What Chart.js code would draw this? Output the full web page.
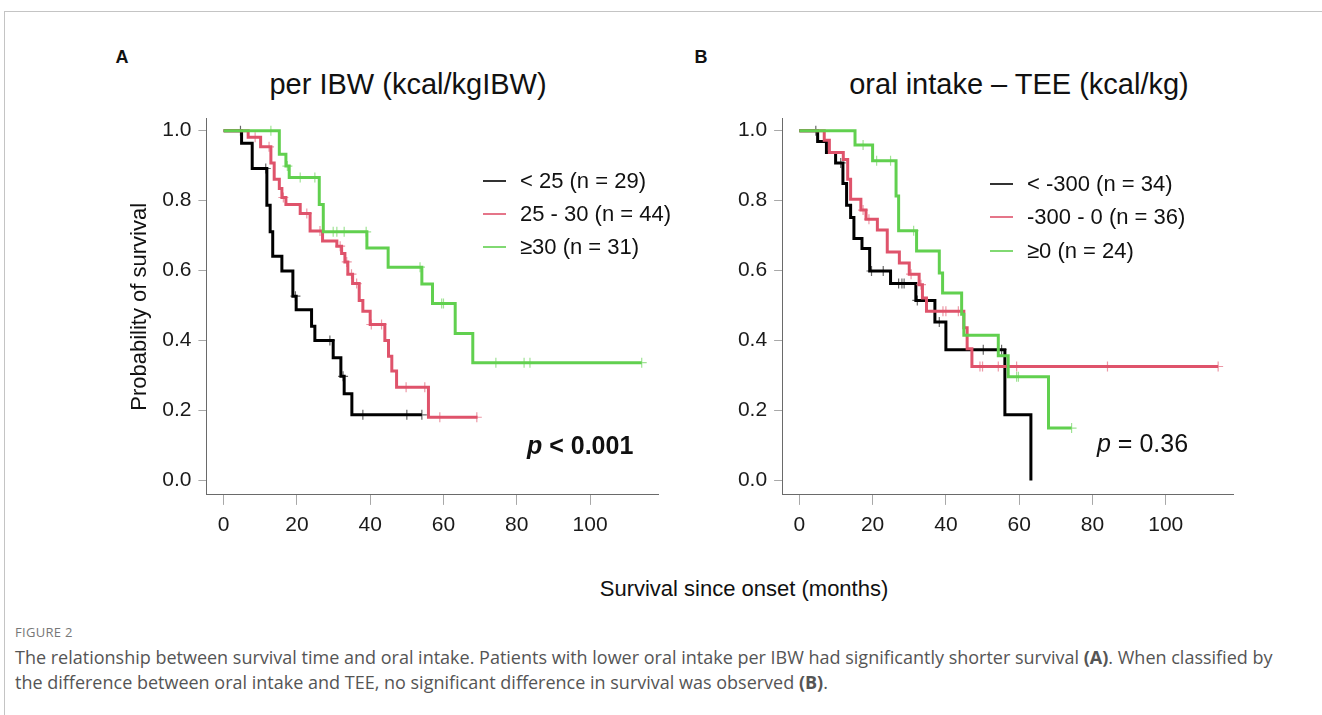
<!DOCTYPE html>
<html>
<head>
<meta charset="utf-8">
<script src="https://cdn.jsdelivr.net/npm/chart.js@4.4.0/dist/chart.umd.min.js"></script>
<style>
  body { margin: 0; background: #fff; }
  #page { position: relative; width: 1322px; height: 715px; overflow: hidden; font-family: "Liberation Sans", Arial, sans-serif; color: #111; }
  #frame { position: absolute; left: 4px; top: 11px; width: 1330px; height: 720px; border-top: 1px solid #c4c4c4; border-left: 1px solid #c4c4c4; }
  canvas { position: absolute; }
  .txt { position: absolute; white-space: nowrap; line-height: 1; }
  .ctr { transform: translate(-50%, -50%); }
  .vc { transform: translateY(-50%); }
  .legrow { position: absolute; display: flex; align-items: center; height: 28px; transform: translateY(-50%); font-size: 22px; white-space: nowrap; }
  .legrow span.ln { display: inline-block; width: 23px; height: 1.6px; margin-right: 14px; opacity: 0.8; }
  .cap { position: absolute; left: 15px; white-space: nowrap; font-family: "Open Sans", "Noto Sans", sans-serif; color: #555; transform: translateY(-50%); }
</style>
</head>
<body>
<div id="page">
  <div id="frame"></div>
  <canvas id="chartA" width="570" height="460" style="left:100px; top:108px;"></canvas>
  <canvas id="chartB" width="570" height="460" style="left:680px; top:108px;"></canvas>

  <div class="txt ctr" style="left:122px; top:57px; font-size:18px; font-weight:bold;">A</div>
  <div class="txt ctr" style="left:701px; top:57px; font-size:18px; font-weight:bold;">B</div>
  <div class="txt ctr" id="titleA" style="left:408px; top:84px; font-size:29px;"></div>
  <div class="txt ctr" id="titleB" style="left:1019px; top:84px; font-size:29px;"></div>
  <div class="txt vc" style="left:527px; top:445px; font-size:25px; font-weight:bold;"><i>p</i> &lt; 0.001</div>
  <div class="txt vc" style="left:1097px; top:443px; font-size:25px;"><i>p</i> = 0.36</div>
  <div class="txt ctr" style="left:744px; top:589px; font-size:22px;">Survival since onset (months)</div>
  <div id="legendA"></div>
  <div id="legendB"></div>

  <div class="cap" style="top:632px; font-size:13px; color:#777; letter-spacing:0.3px;">FIGURE 2</div>
  <div class="cap" style="top:657px; font-size:18px;">The relationship between survival time and oral intake. Patients with lower oral intake per IBW had significantly shorter survival <b>(A)</b>. When classified by</div>
  <div class="cap" style="top:682px; font-size:18px;">the difference between oral intake and TEE, no significant difference in survival was observed <b>(B)</b>.</div>
</div>

<script>
// shared axis ticks and colours
const xTicks = [0, 20, 40, 60, 80, 100]
const yTicks = [0.0, 0.2, 0.4, 0.6, 0.8, 1.0]
const groupColors = ['#000000', '#DF536B', '#61D04F']

// Panel A - per IBW
const aTitle = 'per IBW (kcal/kgIBW)'
const aLabels = ['< 25 (n = 29)', '25 - 30 (n = 44)', '≥30 (n = 31)']
const aLowTime  = [0, 4.9, 7.8, 11.8, 12.7, 13.4, 15.9, 18.9, 19.8, 24.0, 24.9, 29.9, 32.0, 32.9, 35.0, 54.1]
const aLowSurv  = [1, 0.964, 0.892, 0.787, 0.711, 0.641, 0.599, 0.527, 0.488, 0.441, 0.400, 0.351, 0.298, 0.248, 0.188, 0.188]
const aLowCens  = [4.6, 11.5, 19.6, 29.0, 32.6, 38.0, 50.0, 54.1]
const aMidTime  = [0, 6.7, 10.1, 12.9, 13.8, 15.2, 15.9, 17.0, 20.9, 23.6, 27.0, 30.9, 32.2, 33.1, 33.9, 35.2, 37.0, 38.0, 40.0, 44.0, 45.0, 45.9, 47.2, 55.9, 69.3]
const aMidSurv  = [1, 0.981, 0.954, 0.908, 0.861, 0.835, 0.809, 0.789, 0.763, 0.713, 0.685, 0.670, 0.649, 0.625, 0.590, 0.563, 0.515, 0.484, 0.446, 0.400, 0.355, 0.313, 0.267, 0.181, 0.181]
const aMidCens  = [8.6, 12.4, 16.3, 22.7, 26.3, 31.8, 33.6, 34.9, 36.3, 40.3, 43.1, 49.8, 54.9, 59.0, 69.1]
const aHighTime = [0, 15.2, 17.0, 17.9, 26.1, 27.2, 39.1, 44.9, 54.1, 57.0, 63.2, 68.0, 114.1]
const aHighSurv = [1, 0.933, 0.899, 0.866, 0.789, 0.711, 0.665, 0.610, 0.562, 0.506, 0.420, 0.337, 0.337]
const aHighCens = [12.9, 17.4, 20.9, 24.9, 29.9, 30.9, 32.9, 38.9, 53.6, 59.5, 60.0, 74.3, 82.0, 83.6, 114.1]

// Panel B - oral intake minus TEE
const bTitle = 'oral intake – TEE (kcal/kg)'
const bLabels = ['< -300 (n = 34)', '-300 - 0 (n = 36)', '≥0 (n = 24)']
const bLowTime  = [0, 5.0, 7.4, 9.9, 11.9, 12.9, 14.0, 14.9, 17.1, 19.2, 24.9, 31.8, 37.0, 40.0, 56.1, 63.2]
const bLowSurv  = [1, 0.969, 0.938, 0.908, 0.849, 0.787, 0.752, 0.692, 0.663, 0.599, 0.563, 0.515, 0.453, 0.374, 0.188, 0.0]
const bLowCens  = [4.5, 11.3, 19.7, 22.9, 27.1, 28.0, 28.6, 32.2, 38.2, 50.2, 55.2]
const bMidTime  = [0, 6.8, 8.2, 12.0, 13.2, 14.0, 16.8, 18.2, 21.3, 24.0, 27.3, 30.0, 32.7, 33.6, 34.7, 44.9, 45.8, 47.1, 114.3]
const bMidSurv  = [1, 0.973, 0.938, 0.918, 0.861, 0.804, 0.773, 0.747, 0.716, 0.653, 0.622, 0.590, 0.560, 0.522, 0.484, 0.437, 0.377, 0.326, 0.326]
const bMidCens  = [17.4, 19.0, 30.5, 33.2, 39.2, 40.0, 43.4, 49.3, 50.0, 54.3, 59.3, 84.1, 114.3]
const bHighTime = [0, 15.2, 20.0, 26.4, 27.1, 32.0, 38.2, 39.1, 44.3, 44.9, 54.3, 57.0, 68.0, 74.3]
const bHighSurv = [1, 0.959, 0.914, 0.813, 0.714, 0.656, 0.593, 0.536, 0.475, 0.415, 0.357, 0.297, 0.150, 0.150]
const bHighCens = [17.4, 21.1, 24.9, 31.2, 59.3, 59.8, 74.3]

const FONT = '"Liberation Sans", Arial, sans-serif'

function stepPoints(times, surv) {
    return times.map((t, i) => ({x: t, y: surv[i]}))
}
function survAt(times, surv, t) {
    let s = surv[0]
    for (let i = 0; i < times.length; i++) if (times[i] <= t) s = surv[i]
    return s
}
function censPoints(times, surv, cens) {
    return cens.map(t => ({x: t, y: survAt(times, surv, t)}))
}
function fade(hex, a) {
    const n = parseInt(hex.slice(1), 16)
    return 'rgba(' + (n >> 16) + ',' + ((n >> 8) & 255) + ',' + (n & 255) + ',' + a + ')'
}

function buildDatasets(groups, width) {
    let sets = []
    groups.forEach((g, i) => {
        sets.push({
            type: 'line',
            data: stepPoints(g.time, g.surv),
            stepped: true,
            borderColor: groupColors[i],
            borderWidth: width,
            pointRadius: 0,
            fill: false,
            order: 10 - 2 * i
        })
        sets.push({
            type: 'line',
            showLine: false,
            data: censPoints(g.time, g.surv, g.cens),
            pointStyle: 'cross',
            pointRadius: 5,
            borderColor: fade(groupColors[i], 0.6),
            borderWidth: 1.2,
            order: 9 - 2 * i
        })
    })
    return sets
}

function makePanel(id, groups, plotLeft, padRight, yTitle) {
    const canvasH = 460
    const plotTop = 10.8
    const plotBottom = 386.9
    return new Chart(document.getElementById(id), {
        type: 'line',
        data: {datasets: buildDatasets(groups, 3)},
        options: {
            responsive: false,
            animation: false,
            devicePixelRatio: 1,
            layout: {padding: {left: 0, top: plotTop, right: padRight, bottom: 0}},
            plugins: {legend: {display: false}, tooltip: {enabled: false}},
            scales: {
                x: {
                    type: 'linear',
                    min: -4.7,
                    max: 118.6,
                    afterBuildTicks: sc => { sc.ticks = xTicks.map(v => ({value: v})) },
                    afterFit: sc => { sc.height = canvasH - plotBottom; sc.paddingLeft = 0; sc.paddingRight = 0 },
                    border: {display: true, color: '#6a6a6a', width: 1},
                    grid: {display: true, drawOnChartArea: false, drawTicks: true, tickLength: 10, color: '#a8a8a8'},
                    ticks: {font: {family: FONT, size: 21}, color: '#1a1a1a', padding: 8, maxRotation: 0, autoSkip: false}
                },
                y: {
                    type: 'linear',
                    min: -0.041,
                    max: 1.034,
                    afterBuildTicks: sc => { sc.ticks = yTicks.map(v => ({value: v})) },
                    afterFit: sc => { sc.width = plotLeft; sc.paddingTop = 0; sc.paddingBottom = 0 },
                    border: {display: true, color: '#6a6a6a', width: 1},
                    grid: {display: true, drawOnChartArea: false, drawTicks: true, tickLength: 8, color: '#a8a8a8'},
                    ticks: {font: {family: FONT, size: 21}, color: '#1a1a1a', padding: 7, callback: v => v.toFixed(1)},
                    title: {display: !!yTitle, text: yTitle || '', font: {family: FONT, size: 22}, color: '#111', padding: {top: 27, bottom: 0}}
                }
            }
        }
    })
}

let chartA = makePanel('chartA', [
    {time: aLowTime, surv: aLowSurv, cens: aLowCens},
    {time: aMidTime, surv: aMidSurv, cens: aMidCens},
    {time: aHighTime, surv: aHighSurv, cens: aHighCens}
], 106.4, 11.8, 'Probability of survival')

let chartB = makePanel('chartB', [
    {time: bLowTime, surv: bLowSurv, cens: bLowCens},
    {time: bMidTime, surv: bMidSurv, cens: bMidCens},
    {time: bHighTime, surv: bHighSurv, cens: bHighCens}
], 102.1, 16.1, null)

document.getElementById('titleA').textContent = aTitle
document.getElementById('titleB').textContent = bTitle

function buildLegend(id, labels, left, rows) {
    const box = document.getElementById(id)
    labels.forEach((lab, i) => {
        const row = document.createElement('div')
        row.className = 'legrow'
        row.style.left = left + 'px'
        row.style.top = rows[i] + 'px'
        const ln = document.createElement('span')
        ln.className = 'ln'
        ln.style.background = groupColors[i]
        const tx = document.createElement('span')
        tx.textContent = lab
        row.appendChild(ln)
        row.appendChild(tx)
        box.appendChild(row)
    })
}
buildLegend('legendA', aLabels, 483, [181, 214, 247])
buildLegend('legendB', bLabels, 990, [184, 217, 251])
</script>
</body>
</html>
